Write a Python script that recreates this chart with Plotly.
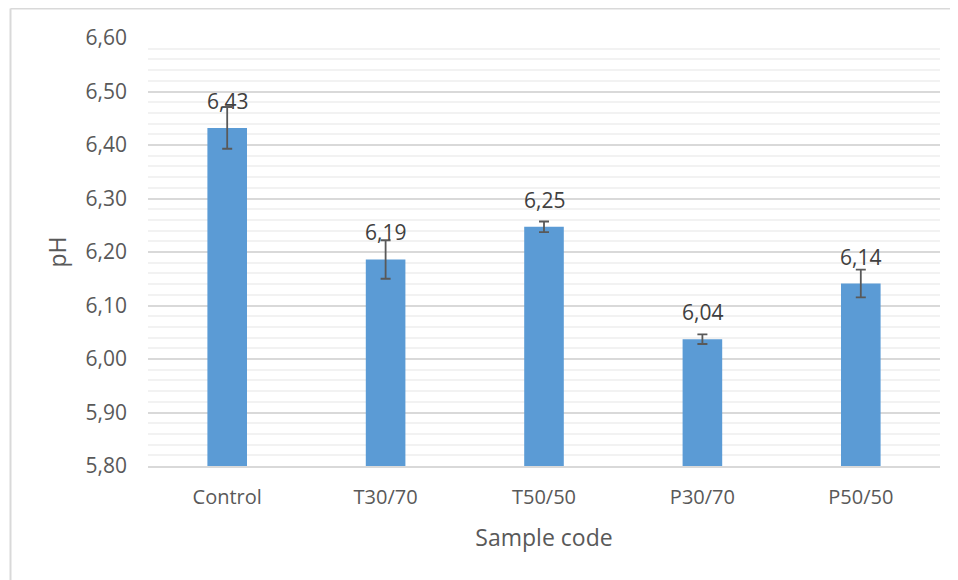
import plotly.graph_objects as go

categories = ["Control", "T30/70", "T50/50", "P30/70", "P50/50"]
ph_values = [6.432, 6.186, 6.247, 6.037, 6.141]
ph_errors = [0.039, 0.036, 0.010, 0.009, 0.026]
value_labels = ["6,43", "6,19", "6,25", "6,04", "6,14"]
y_ticks = [5.8, 5.9, 6.0, 6.1, 6.2, 6.3, 6.4, 6.5, 6.6]
y_tick_labels = ["5,80", "5,90", "6,00", "6,10", "6,20", "6,30", "6,40", "6,50", "6,60"]

W, H = 958, 580
OFF = 8  # page body offset
L, R, T, B = 148 - OFF, 26, 38 - OFF, 122
pw, ph = W - L - R, H - T - B

FONT = "Open Sans"

fig = go.Figure()
fig.add_trace(go.Bar(
    x=categories, y=ph_values,
    marker=dict(color="#5b9bd5", line=dict(width=0)),
    width=0.25,
    error_y=dict(type="data", array=ph_errors, color="#595959", thickness=1.8, width=5),
    hoverinfo="skip",
))

for c, v, lab in zip(categories, ph_values, value_labels):
    fig.add_annotation(x=c, y=v, text=lab, showarrow=False, yanchor="bottom",
                       yshift=11, font=dict(family=FONT, size=21, color="#404040"))

def px_x(p):
    return (p - OFF - L) / pw

def px_y(p):
    return (H - B - (p - OFF)) / ph

border = dict(color="#d9d9d9", width=2)
fig.add_shape(type="line", xref="paper", yref="paper", x0=px_x(10.5), x1=px_x(W + 20),
              y0=px_y(8.5), y1=px_y(8.5), line=border)
fig.add_shape(type="line", xref="paper", yref="paper", x0=px_x(10.5), x1=px_x(10.5),
              y0=px_y(8.5), y1=px_y(H + 20), line=border)

fig.update_layout(
    width=W, height=H,
    margin=dict(l=L, r=R, t=T, b=B),
    paper_bgcolor="white", plot_bgcolor="white",
    showlegend=False,
    separators=",.",
    font=dict(family=FONT, color="#595959"),
    xaxis=dict(
        title=dict(text="Sample code", font=dict(family=FONT, size=23, color="#595959"), standoff=21),
        tickfont=dict(family=FONT, size=20, color="#595959"),
        showgrid=False, showline=True, linecolor="#d9d9d9", linewidth=1.5,
        ticks="", ticklen=0, ticklabelstandoff=12,
    ),
    yaxis=dict(
        title=dict(text="pH", font=dict(family=FONT, size=23, color="#595959"), standoff=12),
        range=[5.8, 6.6],
        tickvals=y_ticks, ticktext=y_tick_labels,
        tickfont=dict(family=FONT, size=21, color="#595959"),
        showgrid=True, gridcolor="#d9d9d9", gridwidth=1.5,
        zeroline=False, showline=False,
        ticks="", ticklabelstandoff=20,
        minor=dict(dtick=0.02, tick0=5.8, showgrid=True, gridcolor="#f2f2f2", gridwidth=1.5),
    ),
)

fig.write_html("out.html")
